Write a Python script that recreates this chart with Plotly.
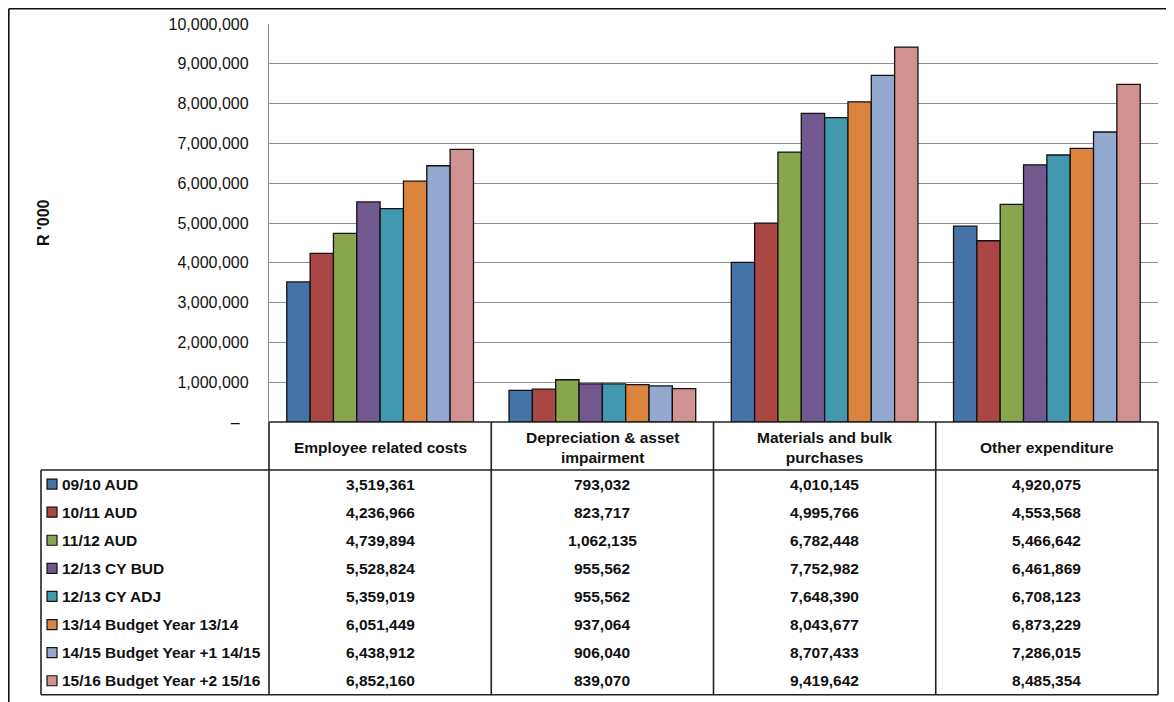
import plotly.graph_objects as go

categories = ["Employee related costs", "Depreciation & asset impairment",
              "Materials and bulk purchases", "Other expenditure"]
header_labels = ["Employee related costs", "Depreciation & asset<br>impairment",
                 "Materials and bulk<br>purchases", "Other expenditure"]
series_names = ["09/10 AUD", "10/11 AUD", "11/12 AUD", "12/13 CY BUD", "12/13 CY ADJ",
                "13/14 Budget Year 13/14", "14/15 Budget Year +1 14/15",
                "15/16 Budget Year +2 15/16"]
s_0910 = [3519361, 793032, 4010145, 4920075]
s_1011 = [4236966, 823717, 4995766, 4553568]
s_1112 = [4739894, 1062135, 6782448, 5466642]
s_1213_bud = [5528824, 955562, 7752982, 6461869]
s_1213_adj = [5359019, 955562, 7648390, 6708123]
s_1314 = [6051449, 937064, 8043677, 6873229]
s_1415 = [6438912, 906040, 8707433, 7286015]
s_1516 = [6852160, 839070, 9419642, 8485354]
series_values = [s_0910, s_1011, s_1112, s_1213_bud, s_1213_adj, s_1314, s_1415, s_1516]
colors = ["#4572A7", "#AA4643", "#89A54E", "#71588F", "#4198AF", "#DB843D", "#93A9CF", "#D19392"]
y_tickvals = [0, 1000000, 2000000, 3000000, 4000000, 5000000, 6000000, 7000000,
              8000000, 9000000, 10000000]
y_ticktext = ["–  "] + [f"{v:,}" for v in y_tickvals[1:]]
y_title = "R '000"

W, H = 1174, 702
FONT = "Liberation Sans, Arial, sans-serif"
OX, OY = 8, 8  # page body offset compensation

# pixel layout helpers (reference screen coordinates)
px_l, px_r = 269, 1158
px_top, px_zero = 24, 422
hdr_bot = 470
row_h = 28.1
tbl_bot = hdr_bot + row_h * len(series_names)
leg_l = 41


def fx(x):
    return (x - OX) / W


def fy(y):
    return 1 - (y - OY) / H


fig = go.Figure()
for name, vals, col in zip(series_names, series_values, colors):
    fig.add_trace(go.Bar(x=categories, y=vals, name=name,
                         marker=dict(color=col, line=dict(color="#111111", width=1.3))))

shapes = []
annotations = []
line_col = "#222222"
lw = 1.6

# outer border (left and top)
bx = max(fx(7), 0.8 / W)
by = min(fy(3), 1 - 0.8 / H)
shapes.append(dict(type="line", xref="paper", yref="paper", x0=bx, x1=bx, y0=by, y1=0,
                   line=dict(color="#111111", width=1.6)))
shapes.append(dict(type="line", xref="paper", yref="paper", x0=bx, x1=1, y0=by, y1=by,
                   line=dict(color="#111111", width=1.6)))

# table grid
ncat = len(categories)
col_w = (px_r - px_l) / ncat
shapes.append(dict(type="line", xref="paper", yref="paper", x0=fx(px_l), x1=fx(px_r),
                   y0=fy(px_zero), y1=fy(px_zero), line=dict(color=line_col, width=lw)))
shapes.append(dict(type="line", xref="paper", yref="paper", x0=fx(leg_l), x1=fx(px_r),
                   y0=fy(hdr_bot), y1=fy(hdr_bot), line=dict(color=line_col, width=lw)))
shapes.append(dict(type="line", xref="paper", yref="paper", x0=fx(leg_l), x1=fx(px_r),
                   y0=fy(tbl_bot), y1=fy(tbl_bot), line=dict(color=line_col, width=lw)))
shapes.append(dict(type="line", xref="paper", yref="paper", x0=fx(leg_l), x1=fx(leg_l),
                   y0=fy(hdr_bot), y1=fy(tbl_bot), line=dict(color=line_col, width=lw)))
for i in range(ncat + 1):
    xx = px_l + i * col_w
    shapes.append(dict(type="line", xref="paper", yref="paper", x0=fx(xx), x1=fx(xx),
                       y0=fy(px_zero), y1=fy(tbl_bot), line=dict(color=line_col, width=lw)))

# headers
for i, lab in enumerate(header_labels):
    annotations.append(dict(xref="paper", yref="paper", x=fx(px_l + (i + 0.5) * col_w),
                            y=fy((px_zero + hdr_bot) / 2 + 1), text=f"<b>{lab}</b>",
                            showarrow=False, xanchor="center", yanchor="middle",
                            font=dict(family=FONT, size=15.5, color="#111111")))

# rows
for r, (name, vals, col) in enumerate(zip(series_names, series_values, colors)):
    yc = hdr_bot + (r + 0.5) * row_h
    shapes.append(dict(type="rect", xref="paper", yref="paper", x0=fx(47), x1=fx(57),
                       y0=fy(yc - 5), y1=fy(yc + 5), fillcolor=col,
                       line=dict(color="#111111", width=1.2)))
    annotations.append(dict(xref="paper", yref="paper", x=fx(60), y=fy(yc), text=f"<b>{name}</b>",
                            showarrow=False, xanchor="left", yanchor="middle",
                            font=dict(family=FONT, size=15.5, color="#111111")))
    for i, v in enumerate(vals):
        annotations.append(dict(xref="paper", yref="paper", x=fx(px_l + (i + 0.5) * col_w),
                                y=fy(yc), text=f"<b>{v:,}</b>", showarrow=False,
                                xanchor="center", yanchor="middle",
                                font=dict(family=FONT, size=15.5, color="#111111")))

# y-axis title
annotations.append(dict(xref="paper", yref="paper", x=fx(43), y=fy(223), text=f"<b>{y_title}</b>",
                        textangle=-90, showarrow=False, xanchor="center", yanchor="middle",
                        font=dict(family=FONT, size=16, color="#111111")))

fig.update_layout(
    width=W, height=H,
    margin=dict(l=0, r=0, t=0, b=0, pad=0, autoexpand=False),
    paper_bgcolor="white", plot_bgcolor="white",
    barmode="group", bargap=0.16, bargroupgap=0,
    showlegend=False,
    font=dict(family=FONT, color="#111111"),
    xaxis=dict(domain=[fx(px_l), fx(px_r)], showticklabels=False, showgrid=False,
               showline=False, zeroline=False, ticks="", automargin=False),
    yaxis=dict(domain=[fy(px_zero), fy(px_top)], range=[0, 10000000],
               tickvals=y_tickvals, ticktext=y_ticktext, automargin=False,
               showgrid=True, gridcolor="#8c8c8c", gridwidth=1.3,
               showline=True, linecolor="#8c8c8c", linewidth=1.3,
               zeroline=False, ticks="", ticklabelstandoff=16,
               tickfont=dict(family=FONT, size=16, color="#111111")),
    shapes=shapes, annotations=annotations,
)

fig.write_html("out.html")
